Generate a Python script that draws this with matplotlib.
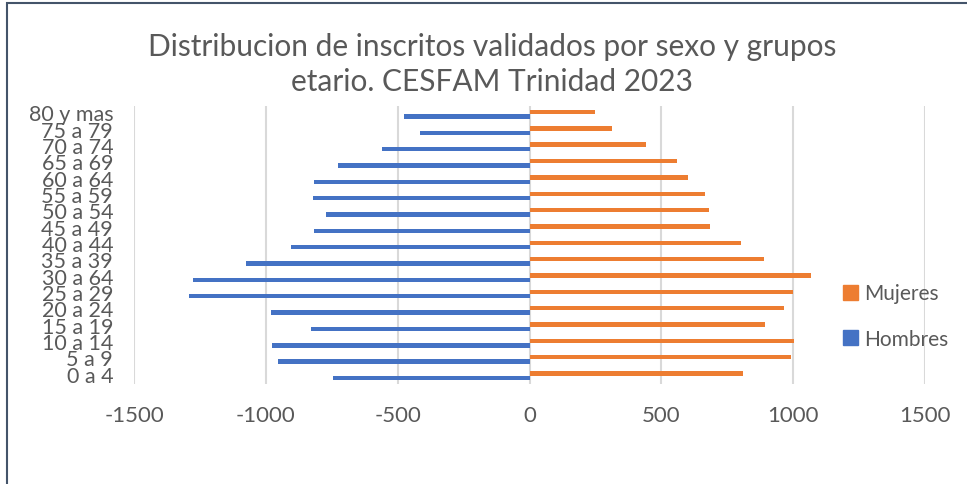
import numpy as np
import matplotlib.pyplot as plt
from matplotlib.patches import Rectangle, Patch

# age groups, bottom to top as drawn
grupos = ['0 a 4', '5 a 9', '10 a 14', '15 a 19', '20 a 24', '25 a 29', '30 a 64',
          '35 a 39', '40 a 44', '45 a 49', '50 a 54', '55 a 59', '60 a 64',
          '65 a 69', '70 a 74', '75 a 79', '80 y mas']
hombres = [-745, -953, -978, -829, -979, -1290, -1277,
           -1075, -906, -818, -772, -823, -818,
           -728, -558, -417, -476]
mujeres = [808, 991, 1003, 893, 967, 999, 1069,
           890, 803, 685, 680, 666, 603,
           561, 443, 313, 249]
x_ticks = [-1500, -1000, -500, 0, 500, 1000, 1500]

blue = '#4472C4'
orange = '#ED7D31'
gray_text = '#595959'

plt.rcParams['font.family'] = ['Lato', 'DejaVu Sans']

W, H = 967, 485
fig = plt.figure(figsize=(W / 100, H / 100), dpi=100)

# chart frame (clipped at right/bottom like the screenshot)
fig.patches.append(Rectangle((7 / W, -0.1), 1.2, 1 - 4 / H + 0.1, transform=fig.transFigure,
                             fill=False, edgecolor='#44546A', linewidth=1.5))

ax = fig.add_axes([134 / W, 1 - 385 / H, (925 - 134) / W, (385 - 107) / H])

y = np.arange(len(grupos))
h = 0.27
ax.barh(y - h / 2, hombres, height=h, color=blue, label='Hombres', zorder=3)
ax.barh(y + h / 2, mujeres, height=h, color=orange, label='Mujeres', zorder=3)

ax.set_xlim(-1500, 1500)
ax.set_ylim(-0.5, len(grupos) - 0.5)
ax.set_xticks(x_ticks)
ax.set_xticklabels([str(t) for t in x_ticks], fontsize=16, color=gray_text)
ax.tick_params(axis='x', length=0, pad=15)
ax.xaxis.grid(True, color='#D9D9D9', linewidth=1.5, zorder=0)

ax.set_yticks(y)
ax.set_yticklabels(grupos, fontsize=15.5, color=gray_text)
ax.tick_params(axis='y', length=0, pad=15)
for lbl in ax.get_yticklabels():
    lbl.set_verticalalignment('center')

for s in ax.spines.values():
    s.set_visible(False)

fig.text(492 / W, 1 - 47 / H, 'Distribucion de inscritos validados por sexo y grupos',
         ha='center', va='center', fontsize=21.5, color=gray_text)
fig.text(492 / W, 1 - 82 / H, 'etario. CESFAM Trinidad 2023',
         ha='center', va='center', fontsize=21.5, color=gray_text)

handles = [Patch(color=orange, label='Mujeres'), Patch(color=blue, label='Hombres')]
fig.legend(handles=handles, loc='center left', bbox_to_anchor=(843 / W, 1 - 317 / H),
           frameon=False, fontsize=15, labelcolor=gray_text, handlelength=0.7,
           handleheight=0.7, handletextpad=0.3, labelspacing=1.2, borderpad=0,
           borderaxespad=0)

fig.savefig('out.png', dpi=100)
